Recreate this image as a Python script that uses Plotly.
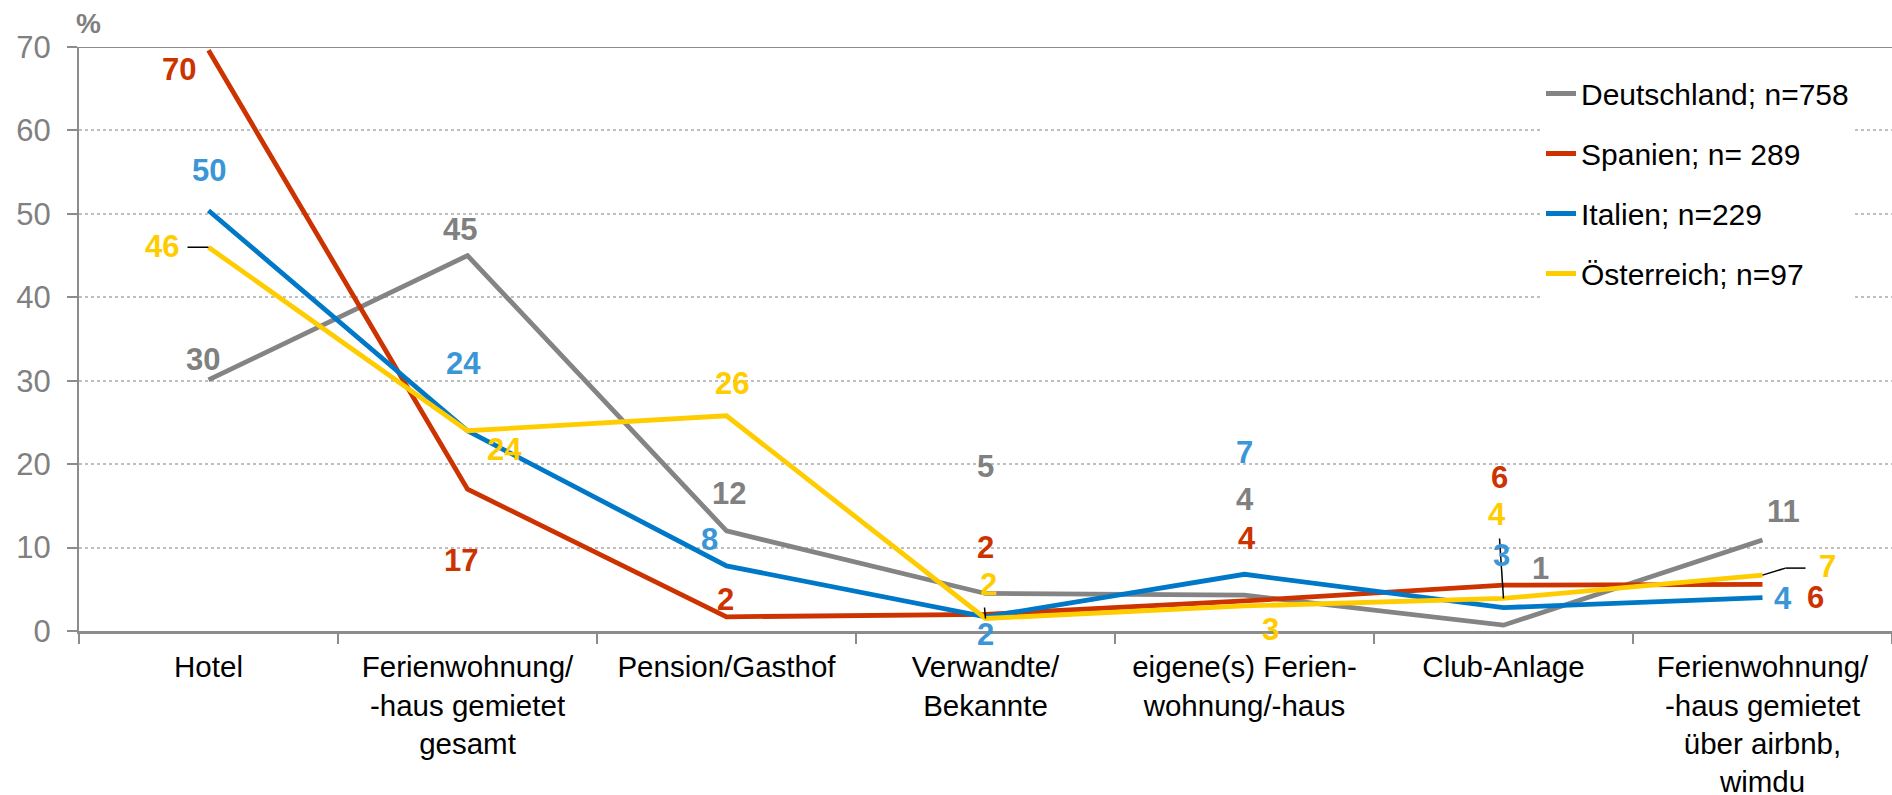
import plotly.graph_objects as go

# ---------------- data ----------------
categories = [
    "Hotel",
    "Ferienwohnung/<br>-haus gemietet<br>gesamt",
    "Pension/Gasthof",
    "Verwandte/<br>Bekannte",
    "eigene(s) Ferien-<br>wohnung/-haus",
    "Club-Anlage",
    "Ferienwohnung/<br>-haus gemietet<br>über airbnb,<br>wimdu",
]

series_names = ["Deutschland; n=758", "Spanien; n= 289", "Italien; n=229", "Österreich; n=97"]

deutschland = [30.1, 45.0, 12.0, 4.5, 4.3, 0.7, 10.9]
spanien = [69.6, 17.0, 1.7, 2.0, 3.6, 5.5, 5.6]
italien = [50.4, 24.0, 7.8, 1.7, 6.8, 2.8, 4.0]
oesterreich = [46.0, 24.0, 25.8, 1.5, 3.0, 3.9, 6.7]

deutschland_labels = ["30", "45", "12", "5", "4", "1", "11"]
spanien_labels = ["70", "17", "2", "2", "4", "6", "6"]
italien_labels = ["50", "24", "8", "2", "7", "3", "4"]
oesterreich_labels = ["46", "24", "26", "2", "3", "4", "7"]

y_ticks = [0, 10, 20, 30, 40, 50, 60, 70]

# ---------------- styles ----------------
line_colors = ["#848484", "#cc3300", "#0078c8", "#ffcc00"]
label_colors = ["#808080", "#cc3300", "#3a96d6", "#ffcc00"]

# label offsets in pixels relative to the data point (dx right, dy down)
label_offsets = [
    [(-6, -20), (-8, -26), (2, -37), (0, -127), (0, -96), (37, -57), (21, -29)],
    [(-30, 19), (-7, 71), (-1, -17), (0, -67), (2, -62), (-4, -108), (53, 13)],
    [(0, -40), (-4, -67), (-17, -26), (0, 18), (0, -122), (-2, -52), (20, 1)],
    [(-47, -1), (37, 19), (5, -32), (3, -34), (26, 24), (-7, -84), (65, -9)],
]

FONT = "Liberation Sans, Arial, sans-serif"

all_series = [deutschland, spanien, italien, oesterreich]
all_labels = [deutschland_labels, spanien_labels, italien_labels, oesterreich_labels]

plot_left, plot_right, plot_top, plot_bottom = 79, 1892, 46.5, 631
pw, ph = plot_right - plot_left, plot_bottom - plot_top

fig = go.Figure()

for i, (name, vals) in enumerate(zip(series_names, all_series)):
    fig.add_trace(go.Scatter(
        x=categories, y=vals, mode="lines", name=name,
        line=dict(color=line_colors[i], width=4.8),
        legendgroup=f"g{i}",
    ))

annotations = []
for i, (vals, labs) in enumerate(zip(all_series, all_labels)):
    for j, (v, t) in enumerate(zip(vals, labs)):
        dx, dy = label_offsets[i][j]
        annotations.append(dict(
            x=j, y=v, xref="x", yref="y", text=f"<b>{t}</b>",
            showarrow=False, xanchor="center", yanchor="middle",
            xshift=dx, yshift=-dy,
            font=dict(family=FONT, size=31, color=label_colors[i]),
        ))

annotations.append(dict(
    x=(88 - plot_left) / pw, y=1 + (plot_top - 23) / ph,
    xref="paper", yref="paper", text="<b>%</b>", showarrow=False,
    xanchor="center", yanchor="middle",
    font=dict(family=FONT, size=28, color="#808080"),
))

# leader lines (pixel offsets anchored at the Österreich points)
leaders = [
    (0, [(-21, 0, 0, 0)]),
    (3, [(0, 0, -1, 11)]),
    (5, [(0, 0, -4, 60)]),
    (6, [(0, 0, 23, 7), (23, 7, 43, 7)]),
]
shapes = []
for j, segs in leaders:
    for (x0, y0, x1, y1) in segs:
        shapes.append(dict(
            type="line", xref="x", yref="y",
            xsizemode="pixel", ysizemode="pixel",
            xanchor=j, yanchor=oesterreich[j],
            x0=x0, x1=x1, y0=y0, y1=y1,
            line=dict(color="black", width=1.5), layer="above",
        ))
# solid top border line at 70
shapes.append(dict(type="line", xref="paper", yref="y", x0=0, x1=1, y0=70, y1=70,
                   line=dict(color="#8c8c8c", width=2), layer="above"))

fig.update_layout(
    width=1892, height=795,
    margin=dict(l=plot_left, r=1892 - plot_right, t=plot_top, b=795 - plot_bottom, autoexpand=False),
    paper_bgcolor="white", plot_bgcolor="white",
    font=dict(family=FONT, size=30, color="black"),
    showlegend=True,
    legend=dict(
        x=(1541 - plot_left) / pw, xanchor="left",
        y=1 - (67 - plot_top) / ph, yanchor="top",
        font=dict(family=FONT, size=30, color="black"),
        bgcolor="rgba(255,255,255,1)", borderwidth=0,
        tracegroupgap=18, traceorder="grouped",
    ),
    annotations=annotations,
    shapes=shapes,
)

fig.update_xaxes(
    type="category", categoryorder="array", categoryarray=categories,
    showgrid=False, showline=True, linecolor="#8c8c8c", linewidth=2.5,
    ticks="outside", tickson="boundaries", ticklen=10, tickwidth=1.5, tickcolor="#8c8c8c",
    tickfont=dict(family=FONT, size=29.5, color="black"),
    range=[-0.5, 6.5], zeroline=False, ticklabelstandoff=8,
)
fig.update_yaxes(
    range=[0, 70], tickvals=y_ticks, showgrid=True, gridcolor="#bfbfbf", gridwidth=1.5,
    griddash="dot", showline=True, linecolor="#8c8c8c", linewidth=2,
    ticks="outside", ticklen=10, tickwidth=1.5, tickcolor="#8c8c8c",
    tickfont=dict(family=FONT, size=31, color="#808080"),
    zeroline=False, ticklabelstandoff=10,
)

fig.write_html(
    "out.html",
    config={"displayModeBar": False},
    post_script="document.body.style.margin='0px';document.body.style.overflow='hidden';",
)
